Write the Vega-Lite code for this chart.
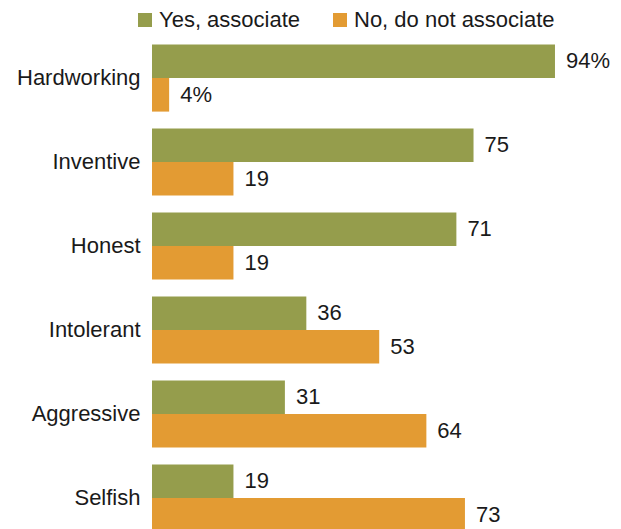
{
  "$schema": "https://vega.github.io/schema/vega-lite/v6.json",
  "width": 469,
  "height": 504,
  "autosize": "none",
  "padding": {"left": 152, "top": 36, "right": 0, "bottom": 0},
  "config": {"view": {"stroke": null}, "font": "Liberation Sans"},
  "data": {"values": [
    {"trait": "Hardworking", "resp": "Yes, associate", "value": 94, "label": "94%"},
    {"trait": "Hardworking", "resp": "No, do not associate", "value": 4, "label": "4%"},
    {"trait": "Inventive", "resp": "Yes, associate", "value": 75, "label": "75"},
    {"trait": "Inventive", "resp": "No, do not associate", "value": 19, "label": "19"},
    {"trait": "Honest", "resp": "Yes, associate", "value": 71, "label": "71"},
    {"trait": "Honest", "resp": "No, do not associate", "value": 19, "label": "19"},
    {"trait": "Intolerant", "resp": "Yes, associate", "value": 36, "label": "36"},
    {"trait": "Intolerant", "resp": "No, do not associate", "value": 53, "label": "53"},
    {"trait": "Aggressive", "resp": "Yes, associate", "value": 31, "label": "31"},
    {"trait": "Aggressive", "resp": "No, do not associate", "value": 64, "label": "64"},
    {"trait": "Selfish", "resp": "Yes, associate", "value": 19, "label": "19"},
    {"trait": "Selfish", "resp": "No, do not associate", "value": 73, "label": "73"}
  ]},
  "encoding": {
    "y": {
      "field": "trait", "type": "nominal",
      "sort": ["Hardworking", "Inventive", "Honest", "Intolerant", "Aggressive", "Selfish"],
      "scale": {"paddingInner": 0.2, "paddingOuter": 0.1},
      "axis": {"title": null, "domain": false, "ticks": false, "labelPadding": 12, "labelFontSize": 22, "labelColor": "#1a1a1a", "labelLimit": 200}
    },
    "yOffset": {
      "field": "resp", "type": "nominal",
      "sort": ["Yes, associate", "No, do not associate"],
      "scale": {"paddingInner": 0, "paddingOuter": 0}
    },
    "x": {
      "field": "value", "type": "quantitative",
      "scale": {"domain": [0, 109.4], "nice": false},
      "axis": null
    }
  },
  "layer": [
    {
      "mark": {"type": "bar"},
      "encoding": {
        "color": {
          "field": "resp", "type": "nominal",
          "sort": ["Yes, associate", "No, do not associate"],
          "scale": {"domain": ["Yes, associate", "No, do not associate"], "range": ["#959d4c", "#e39b33"]},
          "legend": {
            "orient": "none", "legendX": -18, "legendY": -27,
            "direction": "horizontal", "title": null,
            "symbolType": "square", "symbolSize": 196, "symbolStrokeWidth": 0,
            "labelFontSize": 22, "labelColor": "#1a1a1a", "labelOffset": 3, "labelLimit": 300,
            "columnPadding": 28
          }
        }
      }
    },
    {
      "mark": {"type": "text", "align": "left", "baseline": "middle", "dx": 11, "fontSize": 22, "color": "#1a1a1a"},
      "encoding": {"text": {"field": "label"}}
    }
  ]
}
